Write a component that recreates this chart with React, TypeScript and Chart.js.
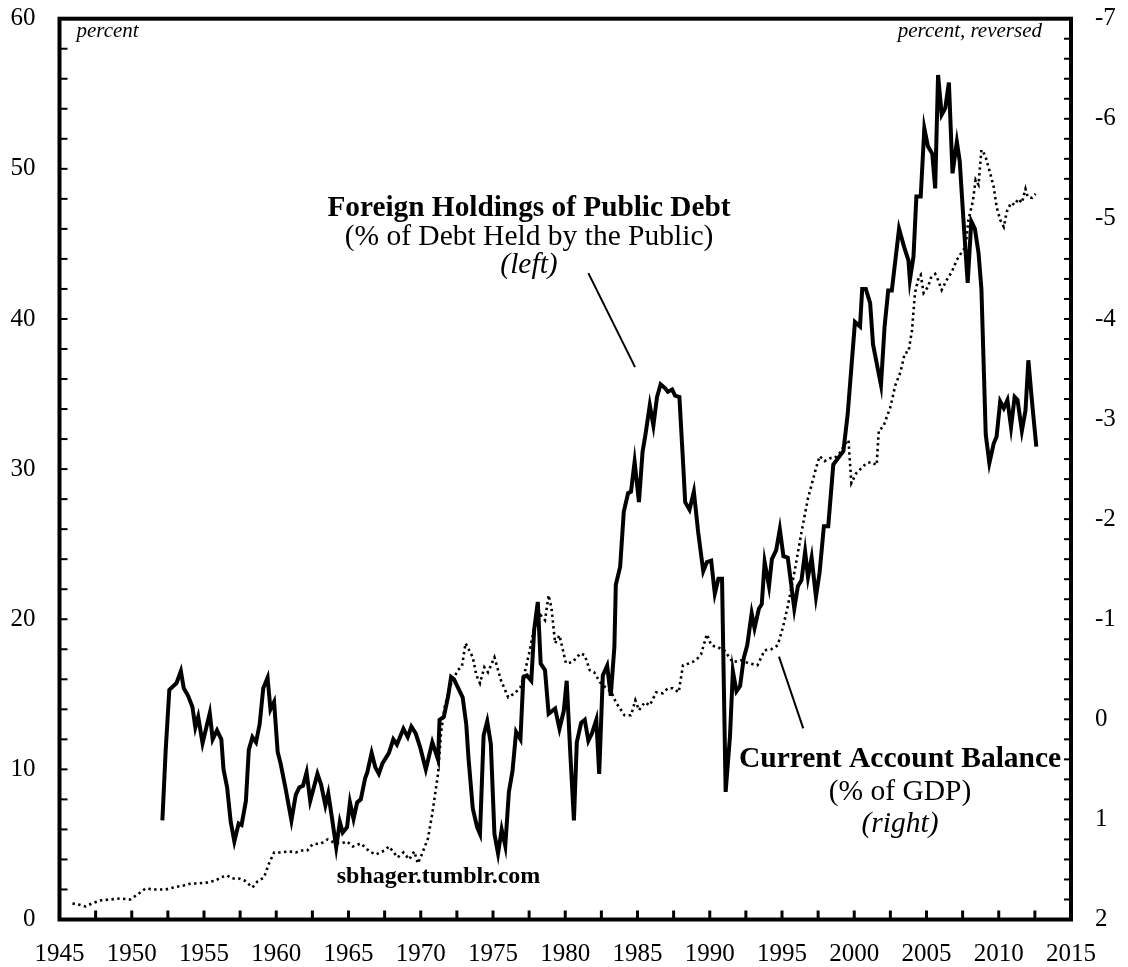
import React, { useEffect, useRef } from 'react';
import { Chart, registerables } from 'chart.js';

Chart.register(...registerables);

// Foreign holdings of public debt, % of debt held by the public (left axis)
const debtYears = [
  1952.12, 1952.35, 1952.6, 1953.1, 1953.4, 1953.6, 1953.9, 1954.2, 1954.4, 1954.6, 1954.9, 1955.4, 1955.6, 1955.9,
  1956.2, 1956.35, 1956.6, 1956.85, 1957.1, 1957.4, 1957.6, 1957.9, 1958.1, 1958.35, 1958.6, 1958.85, 1959.1, 1959.4,
  1959.6, 1959.85, 1960.1, 1960.3, 1960.65, 1961.05, 1961.35, 1961.6, 1961.85, 1962.1, 1962.35, 1962.85, 1963.1, 1963.4,
  1963.6, 1963.85, 1964.15, 1964.4, 1964.6, 1964.9, 1965.1, 1965.35, 1965.6, 1965.85, 1966.15, 1966.3, 1966.6, 1966.85,
  1967.1, 1967.35, 1967.8, 1968.1, 1968.35, 1968.8, 1969.1, 1969.35, 1969.65, 1969.95, 1970.35, 1970.8, 1971.2, 1971.3,
  1971.6, 1971.9, 1972.1, 1972.3, 1972.6, 1972.9, 1973.15, 1973.3, 1973.6, 1973.9, 1974.1, 1974.35, 1974.6, 1974.85,
  1975.1, 1975.35, 1975.6, 1975.85, 1976.1, 1976.35, 1976.6, 1976.9, 1977.1, 1977.35, 1977.65, 1977.85, 1978.1, 1978.3,
  1978.6, 1978.85, 1979.3, 1979.6, 1979.9, 1980.1, 1980.35, 1980.6, 1980.8, 1981.1, 1981.35, 1981.6, 1981.85, 1982.15,
  1982.35, 1982.6, 1982.9, 1983.15, 1983.4, 1983.5, 1983.8, 1984.05, 1984.35, 1984.55, 1984.8, 1985.1, 1985.35, 1985.55,
  1985.85, 1986.1, 1986.35, 1986.6, 1986.9, 1987.1, 1987.4, 1987.6, 1987.9, 1988.15, 1988.3, 1988.6, 1988.9, 1989.2,
  1989.55, 1989.8, 1990.1, 1990.35, 1990.6, 1990.85, 1991.1, 1991.4, 1991.6, 1991.85, 1992.1, 1992.35, 1992.6, 1992.9,
  1993.1, 1993.4, 1993.6, 1993.8, 1994.1, 1994.3, 1994.6, 1994.85, 1995.1, 1995.4, 1995.6, 1995.85, 1996.1, 1996.35,
  1996.6, 1996.8, 1997.05, 1997.35, 1997.6, 1997.9, 1998.2, 1998.55, 1998.9, 1999.25, 1999.55, 2000.05, 2000.4, 2000.55,
  2000.8, 2001.1, 2001.3, 2001.85, 2002.1, 2002.35, 2002.6, 2003.1, 2003.45, 2003.75, 2003.85, 2004.1, 2004.3, 2004.6,
  2004.85, 2005.1, 2005.4, 2005.6, 2005.8, 2006.05, 2006.3, 2006.55, 2006.8, 2007.1, 2007.3, 2007.55, 2007.85, 2008.1,
  2008.35, 2008.6, 2008.8, 2009.1, 2009.35, 2009.65, 2009.85, 2010.1, 2010.35, 2010.6, 2010.85, 2011.1, 2011.3, 2011.6,
  2011.85, 2012.05, 2012.3, 2012.6,
];
const debtValues = [
  6.6, 11.3, 15.3, 15.75, 16.55, 15.4, 14.9, 14.15, 12.8, 13.5, 11.75, 13.75, 12.0, 12.6,
  12.0, 10.0, 8.8, 6.5, 5.2, 6.4, 6.3, 7.9, 11.3, 12.15, 11.8, 13.0, 15.4, 16.1,
  14.0, 14.5, 11.15, 10.4, 8.7, 6.6, 8.3, 8.8, 8.9, 9.8, 7.9, 9.7, 9.0, 7.6,
  8.4, 6.8, 4.8, 6.5, 5.8, 6.15, 7.8, 6.7, 7.8, 8.0, 9.4, 9.8, 11.1, 10.15,
  9.7, 10.4, 11.1, 12.0, 11.65, 12.7, 12.15, 12.85, 12.4, 11.5, 10.0, 11.8, 10.65, 13.3,
  13.5, 14.9, 16.15, 16.0, 15.4, 14.8, 13.0, 10.8, 7.4, 6.15, 5.7, 12.25, 13.2, 11.7,
  5.7, 4.4, 6.0, 4.9, 8.5, 9.9, 12.5, 12.0, 16.15, 16.25, 15.9, 19.3, 21.15, 17.05,
  16.6, 13.7, 14.05, 12.7, 13.9, 15.9, 11.05, 6.6, 11.8, 13.1, 13.3, 11.9, 12.4, 13.3,
  9.7, 16.25, 16.9, 14.9, 18.15, 22.3, 23.5, 27.15, 28.4, 28.5, 30.5, 27.8, 31.15, 32.3,
  34.25, 32.9, 34.8, 35.65, 35.4, 35.15, 35.3, 34.9, 34.8, 30.5, 27.8, 27.3, 28.5, 25.8,
  23.2, 23.8, 23.9, 21.7, 22.7, 22.7, 8.5, 12.2, 16.55, 15.2, 15.55, 17.4, 18.3, 20.4,
  19.4, 20.7, 21.0, 23.8, 22.2, 24.0, 24.6, 26.0, 24.2, 24.1, 22.6, 20.7, 22.2, 22.6,
  24.5, 22.8, 24.1, 21.5, 23.1, 26.2, 26.2, 30.3, 30.75, 31.2, 33.7, 39.8, 39.5, 42.0,
  42.0, 41.05, 38.3, 35.6, 39.5, 41.9, 41.9, 46.0, 44.8, 43.9, 42.6, 44.15, 48.15, 48.15,
  52.7, 51.5, 51.0, 48.7, 56.25, 53.6, 54.05, 55.75, 49.7, 51.8, 50.5, 46.7, 42.4, 46.5,
  46.0, 44.4, 42.0, 32.3, 30.4, 31.7, 32.15, 34.5, 34.05, 34.6, 32.8, 34.8, 34.6, 32.55,
  33.9, 37.25, 34.5, 31.5,
];

// Current account balance, % of GDP (right axis, reversed)
const caYears = [
  1945.9, 1946.3, 1946.8, 1947.25, 1947.8, 1948.5, 1949.2, 1949.9, 1950.4, 1950.95, 1951.55, 1952.35, 1952.9, 1953.6,
  1954.1, 1954.55, 1955.25, 1955.8, 1956.15, 1956.6, 1956.95, 1957.4, 1957.8, 1958.35, 1958.7, 1959.15, 1959.5, 1959.85,
  1960.3, 1960.9, 1961.35, 1961.8, 1962.15, 1962.5, 1963.1, 1963.55, 1964.0, 1964.5, 1964.9, 1965.3, 1965.85, 1966.45,
  1966.9, 1967.5, 1967.8, 1968.4, 1968.8, 1969.2, 1969.55, 1969.8, 1970.1, 1970.5, 1970.8, 1971.2, 1971.4, 1971.65,
  1972.0, 1972.55, 1972.85, 1973.1, 1973.6, 1973.85, 1974.1, 1974.4, 1974.65, 1975.1, 1975.55, 1976.05, 1976.5, 1976.9,
  1977.2, 1977.5, 1977.85, 1978.3, 1978.6, 1978.85, 1979.05, 1979.3, 1979.6, 1980.05, 1980.5, 1981.05, 1981.35, 1981.7,
  1982.0, 1982.4, 1982.85, 1983.2, 1983.5, 1984.1, 1984.55, 1984.85, 1985.1, 1985.5, 1985.85, 1986.3, 1986.75, 1987.1,
  1987.45, 1987.85, 1988.15, 1988.6, 1989.05, 1989.4, 1989.8, 1990.1, 1990.55, 1991.0, 1991.6, 1992.15, 1992.7, 1993.3,
  1993.8, 1994.25, 1994.7, 1995.05, 1995.4, 1995.9, 1996.35, 1996.8, 1997.3, 1997.6, 1997.95, 1998.35, 1998.65, 1999.05,
  1999.4, 1999.6, 1999.8, 2000.15, 2000.5, 2000.85, 2001.2, 2001.55, 2001.7, 2002.0, 2002.5, 2002.85, 2003.2, 2003.5,
  2003.75, 2004.0, 2004.2, 2004.45, 2004.6, 2004.8, 2005.1, 2005.3, 2005.6, 2005.8, 2006.05, 2006.4, 2006.75, 2007.1,
  2007.45, 2007.7, 2007.9, 2008.2, 2008.4, 2008.6, 2008.8, 2009.05, 2009.4, 2009.65, 2009.85, 2010.1, 2010.35, 2010.55,
  2010.85, 2011.1, 2011.35, 2011.6, 2011.85, 2012.0, 2012.3, 2012.55,
];
const caValues = [
  1.84, 1.85, 1.87, 1.84, 1.81, 1.8, 1.79, 1.8, 1.75, 1.69, 1.7, 1.7, 1.68, 1.66,
  1.64, 1.64, 1.63, 1.61, 1.58, 1.56, 1.59, 1.59, 1.61, 1.68, 1.62, 1.58, 1.44, 1.33,
  1.33, 1.32, 1.33, 1.31, 1.31, 1.25, 1.24, 1.2, 1.23, 1.24, 1.22, 1.27, 1.24, 1.32,
  1.35, 1.31, 1.27, 1.38, 1.33, 1.4, 1.32, 1.44, 1.34, 1.19, 0.94, 0.54, 0.14, -0.12,
  -0.32, -0.49, -0.53, -0.76, -0.62, -0.44, -0.36, -0.52, -0.47, -0.62, -0.39, -0.22, -0.26, -0.32,
  -0.47, -0.66, -0.91, -1.04, -0.99, -1.24, -1.11, -0.76, -0.84, -0.56, -0.57, -0.66, -0.64, -0.49,
  -0.47, -0.37, -0.31, -0.27, -0.17, -0.04, -0.04, -0.19, -0.09, -0.17, -0.14, -0.27, -0.26, -0.31,
  -0.31, -0.27, -0.54, -0.56, -0.59, -0.65, -0.85, -0.74, -0.72, -0.69, -0.57, -0.59, -0.56, -0.54,
  -0.69, -0.7, -0.74, -0.91, -1.13, -1.5, -1.87, -2.21, -2.48, -2.63, -2.58, -2.61, -2.61, -2.67,
  -2.76, -2.79, -2.36, -2.46, -2.51, -2.56, -2.57, -2.54, -2.89, -2.92, -3.12, -3.34, -3.47, -3.66,
  -3.67, -3.89, -4.26, -4.41, -4.44, -4.26, -4.32, -4.41, -4.45, -4.39, -4.29, -4.39, -4.47, -4.59,
  -4.67, -4.72, -4.99, -5.17, -5.39, -5.34, -5.69, -5.64, -5.46, -5.32, -5.12, -4.99, -4.92, -5.07,
  -5.16, -5.14, -5.2, -5.16, -5.3, -5.22, -5.21, -5.25,
];

// Axis ranges and labelled ticks
const xMin = 1945;
const xMax = 2015;
const xLabelYears = [1945, 1950, 1955, 1960, 1965, 1970, 1975, 1980, 1985, 1990, 1995, 2000, 2005, 2010, 2015];
const leftMin = 0;
const leftMax = 60;
const leftLabels = [0, 10, 20, 30, 40, 50, 60];
const rightMin = -7;
const rightMax = 2;
const rightLabels = [-7, -6, -5, -4, -3, -2, -1, 0, 1, 2];

const SERIF = '"Liberation Serif", "Times New Roman", serif';

// Annotation texts (positions in data coordinates)
const annotations = [
  { text: 'Foreign Holdings of Public Debt', x: 1977.49, y: 46.87, axis: 'y', font: `bold 29.3px ${SERIF}` },
  { text: '(% of Debt Held by the Public)', x: 1977.49, y: 44.94, axis: 'y', font: `29.5px ${SERIF}` },
  { text: '(left)', x: 1977.49, y: 43.07, axis: 'y', font: `italic 29.5px ${SERIF}` },
  { text: 'Current Account Balance', x: 2003.17, y: 0.476, axis: 'y2', font: `bold 29.5px ${SERIF}` },
  { text: '(% of GDP)', x: 2003.17, y: 0.806, axis: 'y2', font: `29.5px ${SERIF}` },
  { text: '(right)', x: 2003.17, y: 1.126, axis: 'y2', font: `italic 29.5px ${SERIF}` },
  { text: 'sbhager.tumblr.com', x: 1971.23, y: 2.43, axis: 'y', font: `bold 24px ${SERIF}` },
];
const pointers = [
  { x1: 1981.6, y1: 43.05, x2: 1984.83, y2: 36.79, axis: 'y' },
  { x1: 1994.79, y1: -0.626, x2: 1996.47, y2: 0.09, axis: 'y2' },
];

const framePlugin = {
  id: 'frameAndNotes',
  afterDraw(chart: any) {
    const { ctx, chartArea: a, scales } = chart;
    const xs = scales.x;
    const yl = scales.y;
    const yr = scales.y2;
    ctx.save();
    ctx.strokeStyle = '#000';
    ctx.fillStyle = '#000';
    // inner tick marks
    ctx.lineCap = 'butt';
    ctx.lineWidth = 3;
    xs.ticks.forEach((t: any) => {
      const px = xs.getPixelForValue(t.value);
      ctx.beginPath();
      ctx.moveTo(px, a.bottom);
      ctx.lineTo(px, a.bottom - 9);
      ctx.stroke();
    });
    ctx.lineWidth = 2;
    yl.ticks.forEach((t: any) => {
      const py = yl.getPixelForValue(t.value);
      ctx.beginPath();
      ctx.moveTo(a.left, py);
      ctx.lineTo(a.left + 8, py);
      ctx.stroke();
    });
    yr.ticks.forEach((t: any) => {
      const py = yr.getPixelForValue(t.value);
      ctx.beginPath();
      ctx.moveTo(a.right, py);
      ctx.lineTo(a.right - 7, py);
      ctx.stroke();
    });
    // frame
    ctx.lineWidth = 4;
    ctx.lineJoin = 'miter';
    ctx.strokeRect(a.left, a.top, a.right - a.left, a.bottom - a.top);

    // unit notes
    ctx.font = `italic 21px ${SERIF}`;
    ctx.textBaseline = 'alphabetic';
    ctx.textAlign = 'left';
    ctx.fillText('percent', a.left + 17, a.top + 18.6);
    ctx.textAlign = 'right';
    ctx.fillText('percent, reversed', a.right - 29, a.top + 18.6);

    // annotation texts
    ctx.textAlign = 'center';
    annotations.forEach((n) => {
      ctx.font = n.font;
      const sy = scales[n.axis];
      ctx.fillText(n.text, xs.getPixelForValue(n.x), sy.getPixelForValue(n.y));
    });
    // pointer lines
    ctx.lineWidth = 2;
    pointers.forEach((p) => {
      const sy = scales[p.axis];
      ctx.beginPath();
      ctx.moveTo(xs.getPixelForValue(p.x1), sy.getPixelForValue(p.y1));
      ctx.lineTo(xs.getPixelForValue(p.x2), sy.getPixelForValue(p.y2));
      ctx.stroke();
    });
    ctx.restore();
  },
};

const zeroPad = (s: any) => {
  s.paddingTop = 0;
  s.paddingBottom = 0;
  s.paddingLeft = 0;
  s.paddingRight = 0;
};

export default function App() {
  const canvasRef = useRef<HTMLCanvasElement | null>(null);

  useEffect(() => {
    document.body.style.margin = '0';
    const canvas = canvasRef.current;
    if (!canvas) return;
    const debtData = debtYears.map((x, i) => ({ x, y: debtValues[i] }));
    const caData = caYears.map((x, i) => ({ x, y: caValues[i] }));
    const tickFont = { family: SERIF, size: 25 };
    const chart = new Chart(canvas, {
      type: 'line',
      data: {
        datasets: [
          {
            label: 'Foreign Holdings of Public Debt',
            data: debtData,
            yAxisID: 'y',
            borderColor: '#000',
            borderWidth: 4,
            pointRadius: 0,
            tension: 0,
            fill: false,
            borderJoinStyle: 'miter',
          },
          {
            label: 'Current Account Balance',
            data: caData,
            yAxisID: 'y2',
            borderColor: '#000',
            borderWidth: 2.6,
            borderDash: [2.4, 3.4],
            pointRadius: 0,
            tension: 0,
            fill: false,
          },
        ],
      },
      options: {
        animation: false,
        responsive: false,
        maintainAspectRatio: false,
        events: [],
        layout: { padding: { top: 18.7, left: 0, right: 0, bottom: 0 } },
        plugins: { legend: { display: false }, tooltip: { enabled: false }, title: { display: false } },
        scales: {
          x: {
            type: 'linear',
            min: xMin,
            max: xMax,
            grid: { display: false, drawTicks: false },
            border: { display: false },
            afterFit: (s: any) => { s.height = 47.5; zeroPad(s); },
            afterBuildTicks: (s: any) => {
              const t = [];
              for (let v = xMin; v <= xMax + 1e-6; v += 2.5) t.push({ value: v });
              s.ticks = t;
            },
            ticks: {
              autoSkip: false,
              maxRotation: 0,
              padding: 20,
              color: '#000',
              font: tickFont,
              callback: (v: any) => (xLabelYears.some((y) => Math.abs(y - v) < 1e-6) ? String(Math.round(v)) : ''),
            },
          },
          y: {
            type: 'linear',
            position: 'left',
            min: leftMin,
            max: leftMax,
            grid: { display: false, drawTicks: false },
            border: { display: false },
            afterFit: (s: any) => { s.width = 59.5; zeroPad(s); },
            afterBuildTicks: (s: any) => {
              const t = [];
              for (let v = leftMin; v <= leftMax + 1e-6; v += 2) t.push({ value: v });
              s.ticks = t;
            },
            ticks: {
              autoSkip: false,
              padding: 24,
              color: '#000',
              font: tickFont,
              callback: (v: any) => (leftLabels.some((l) => Math.abs(l - v) < 1e-6) ? String(Math.round(v)) : ''),
            },
          },
          y2: {
            type: 'linear',
            position: 'right',
            reverse: true,
            min: rightMin,
            max: rightMax,
            grid: { display: false, drawTicks: false },
            border: { display: false },
            afterFit: (s: any) => { s.width = 57; zeroPad(s); },
            afterBuildTicks: (s: any) => {
              const t = [];
              for (let k = 0; k <= 45; k++) t.push({ value: Math.round((rightMin + k * 0.2) * 10) / 10 });
              s.ticks = t;
            },
            ticks: {
              autoSkip: false,
              padding: 24,
              color: '#000',
              font: tickFont,
              callback: (v: any) => (rightLabels.some((l) => Math.abs(l - v) < 1e-6) ? String(Math.round(v)) : ''),
            },
          },
        },
      },
      plugins: [framePlugin],
    });
    return () => chart.destroy();
  }, []);

  return (
    <div style={{ position: 'absolute', left: 0, top: 0, width: 1128, height: 967, background: '#fff' }}>
      <canvas ref={canvasRef} width={1128} height={967} style={{ display: 'block' }} />
    </div>
  );
}
